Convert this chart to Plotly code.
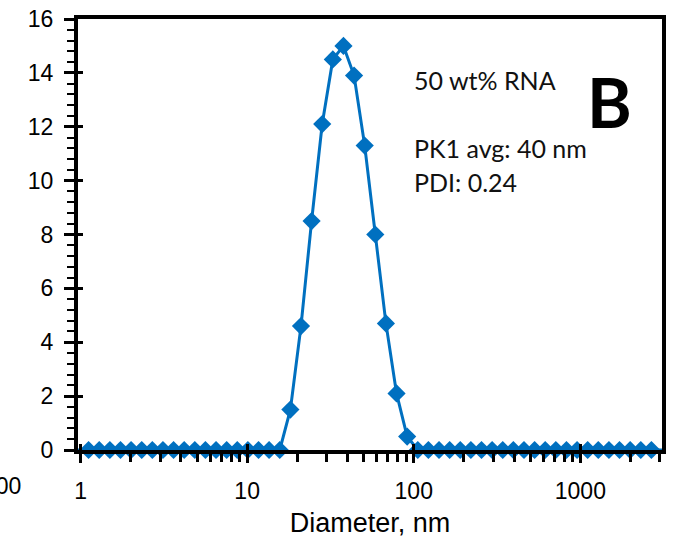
import plotly.graph_objects as go
import math

# Diameter bins (nm) and intensity (%)
diameter_nm = [0.9649, 1.117, 1.294, 1.499, 1.736, 2.010, 2.328, 2.696, 3.122, 3.615,
               4.187, 4.849, 5.615, 6.503, 7.531, 8.721, 10.10, 11.70, 13.54, 15.69,
               18.17, 21.04, 24.36, 28.21, 32.67, 37.84, 43.82, 50.75, 58.77, 68.06,
               78.82, 91.28, 105.7, 122.4, 141.8, 164.2, 190.1, 220.2, 255.0, 295.3,
               342.0, 396.1, 458.7, 531.2, 615.1, 712.4, 825.0, 955.4, 1106, 1281,
               1484, 1718, 1990, 2305, 2669, 3091]
intensity = [0, 0, 0, 0, 0, 0, 0, 0, 0, 0,
             0, 0, 0, 0, 0, 0, 0, 0, 0, 0,
             1.5, 4.6, 8.5, 12.1, 14.5, 15.0, 13.9, 11.3, 8.0, 4.7,
             2.1, 0.5, 0, 0, 0, 0, 0, 0, 0, 0,
             0, 0, 0, 0, 0, 0, 0, 0, 0, 0,
             0, 0, 0, 0, 0, 0]

x_tickvals = [1, 10, 100, 1000]
x_ticktext = ["1", "10", "100", "1000"]
y_tickvals = [0, 2, 4, 6, 8, 10, 12, 14, 16]

label_sample = "50 wt% RNA"
label_pk = "PK1 avg: 40 nm"
label_pdi = "PDI: 0.24"
panel_letter = "B"

blue = "#0070C0"
xr = [math.log10(0.965), 3.49]
yr = [0, 16]
x_minor = [d * m for d in (1, 10, 100, 1000) for m in range(2, 10)]
y_minor = [round(i * 0.4, 1) for i in range(0, 41) if i % 5 != 0]
tickfont = dict(family="Liberation Sans, Arial", size=23, color="black")
titlefont = dict(family="Liberation Sans, Arial", size=27, color="black")

fig = go.Figure()
fig.add_trace(go.Scatter(
    x=diameter_nm, y=intensity, mode="lines+markers",
    line=dict(color=blue, width=3),
    marker=dict(symbol="diamond", size=14, color=blue),
    cliponaxis=False, showlegend=False))
# helper trace for inside (crossing) tick marks
fig.add_trace(go.Scatter(x=diameter_nm[:1], y=intensity[:1], xaxis="x2", yaxis="y2",
                         mode="markers", opacity=0, showlegend=False, hoverinfo="skip"))

fig.update_layout(
    width=677, height=540,
    margin=dict(l=78, r=15, t=19, b=90),
    paper_bgcolor="white", plot_bgcolor="white",
    xaxis=dict(type="log", range=xr, tickmode="array", tickvals=x_tickvals, ticktext=x_ticktext,
               automargin=False,
               showgrid=False, zeroline=False, showline=True, linecolor="black",
               linewidth=4, mirror=True, ticks="outside", ticklen=9, tickwidth=3,
               tickcolor="black", tickfont=tickfont, ticklabelstandoff=8,
               minor=dict(tickmode="array", tickvals=x_minor, ticks="outside", ticklen=8,
                          tickwidth=3, tickcolor="black", showgrid=False),
               title=dict(text="Diameter, nm", font=titlefont, standoff=12)),
    yaxis=dict(range=yr, tickmode="array", tickvals=y_tickvals, automargin=False,
               showgrid=False, zeroline=False,
               showline=True, linecolor="black", linewidth=4, mirror=True,
               ticks="outside", ticklen=10, tickwidth=3, tickcolor="black",
               tickfont=tickfont, ticklabelstandoff=6,
               minor=dict(tickmode="array", tickvals=y_minor, ticks="outside", ticklen=7,
                          tickwidth=2, tickcolor="black", showgrid=False)),
    xaxis2=dict(type="log", range=xr, overlaying="x", tickmode="array", tickvals=x_tickvals,
                automargin=False,
                showticklabels=False, ticks="inside", ticklen=6, tickwidth=3,
                tickcolor="black", showgrid=False, zeroline=False, showline=False),
    yaxis2=dict(range=yr, overlaying="y", tickmode="array", tickvals=y_tickvals,
                automargin=False,
                showticklabels=False, ticks="inside", ticklen=5, tickwidth=3,
                tickcolor="black", showgrid=False, zeroline=False, showline=False),
)

txtfont = dict(family="Lato, Open Sans", size=25, color="#111")
fig.add_annotation(x=1.99, y=13.72, xref="x", yref="y", text=label_sample,
                   showarrow=False, xanchor="left", yanchor="middle", font=txtfont)
fig.add_annotation(x=1.99, y=11.2, xref="x", yref="y", text=label_pk,
                   showarrow=False, xanchor="left", yanchor="middle", font=txtfont)
fig.add_annotation(x=1.99, y=9.96, xref="x", yref="y", text=label_pdi,
                   showarrow=False, xanchor="left", yanchor="middle", font=txtfont)
fig.add_annotation(x=3.176, y=12.95, xref="x", yref="y", text="<b>" + panel_letter + "</b>",
                   showarrow=False, xanchor="center", yanchor="middle",
                   font=dict(family="Lato, Open Sans", size=68, color="black"))
# cut-off tick label from neighbouring panel at the left edge (as in the reference)
fig.add_annotation(x=(21 - 76) / 588, y=(452 - 488) / 435, xref="paper", yref="paper",
                   text="100", showarrow=False, xanchor="right", yanchor="middle",
                   font=tickfont)

fig.write_html("out.html", config={"displayModeBar": False},
               post_script="document.body.style.margin='0';document.body.style.overflow='hidden';")
